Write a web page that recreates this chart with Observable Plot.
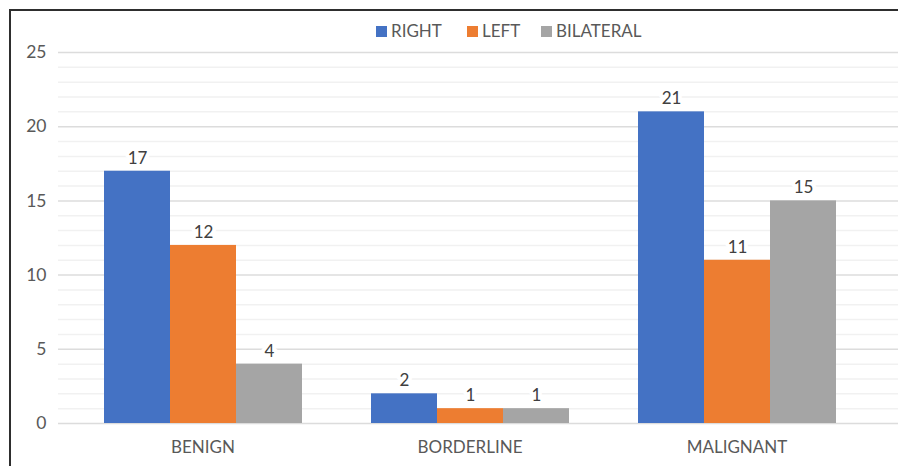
<!DOCTYPE html>
<html>
<head>
<meta charset="utf-8">
<script src="https://cdn.jsdelivr.net/npm/d3@7"></script>
<script src="https://cdn.jsdelivr.net/npm/@observablehq/plot@0.6"></script>
<style>
  html, body { margin: 0; padding: 0; background: #fff; overflow: hidden; }
  #wrap { position: relative; width: 898px; height: 466px; overflow: hidden; font-family: Lato, "Open Sans", sans-serif; }
  #frame { position: absolute; left: 9px; top: 9px; width: 1000px; height: 1000px; border: 2px solid #2e2e2e; box-sizing: border-box; pointer-events: none; }
  #legend { position: relative; height: 40px; }
  .item { position: absolute; top: 21px; display: flex; align-items: center; font-size: 17px; color: #595959; line-height: 20px; }
  .sw { width: 11px; height: 11px; margin-right: 4px; }
  #chart { position: relative; height: 426px; }
  #chart svg { display: block; position: absolute; left: 0; top: 0; }
</style>
</head>
<body>
<div id="wrap">
  <div id="legend"></div>
  <div id="chart"></div>
  <div id="frame"></div>
</div>
<script>
// Tumour type by side
const categories = ["BENIGN", "BORDERLINE", "MALIGNANT"];
const series = ["RIGHT", "LEFT", "BILATERAL"];
const rightCounts = [17, 2, 21];
const leftCounts = [12, 1, 11];
const bilateralCounts = [4, 1, 15];
const colors = ["#4472C4", "#ED7D31", "#A5A5A5"];
const majorTicks = [0, 5, 10, 15, 20, 25];
const minorTicks = [1, 2, 3, 4, 6, 7, 8, 9, 11, 12, 13, 14, 16, 17, 18, 19, 21, 22, 23, 24];
const legendLeft = [376, 467, 541];

const countsBySeries = [rightCounts, leftCounts, bilateralCounts];
const data = categories.flatMap((category, i) =>
  series.map((side, j) => ({category, side, count: countsBySeries[j][i]}))
);

// legend row
const legend = document.getElementById("legend");
series.forEach((s, j) => {
  const item = document.createElement("div");
  item.className = "item";
  item.style.left = legendLeft[j] + "px";
  const sw = document.createElement("span");
  sw.className = "sw";
  sw.style.background = colors[j];
  const label = document.createElement("span");
  label.textContent = s;
  item.append(sw, label);
  legend.append(item);
});

// shared frame of both layers
const frame = {
  width: 898,
  height: 426,
  marginLeft: 58,
  marginRight: 0,
  marginTop: 12,
  marginBottom: 43,
  style: {fontFamily: "Lato, 'Open Sans', sans-serif", fontSize: "16px", color: "#595959", background: "transparent"}
};
const yScale = {domain: [0, 25], axis: null};

// back layer: gridlines and value axis spanning the full plot width
const grid = Plot.plot({
  ...frame,
  y: yScale,
  marks: [
    Plot.ruleY(minorTicks, {stroke: "#f1f1f1", strokeWidth: 1.5}),
    Plot.ruleY(majorTicks, {stroke: "#dcdcdc", strokeWidth: 1.5}),
    Plot.axisY(majorTicks, {tickSize: 0, tickPadding: 12, label: null, fontSize: 17.5})
  ]
});

// front layer: grouped bars with value labels
const bars = Plot.plot({
  ...frame,
  fx: {domain: categories, paddingInner: 0, paddingOuter: 0.07, align: 0.27, label: null},
  x: {domain: series, paddingInner: 0, paddingOuter: 0.5, axis: null},
  y: yScale,
  color: {domain: series, range: colors},
  marks: [
    Plot.axisFx({anchor: "bottom", tickSize: 0, tickPadding: 17, label: null, fontSize: 17}),
    Plot.barY(data, {fx: "category", x: "side", y: "count", fill: "side"}),
    Plot.text(data, {
      fx: "category", x: "side", y: "count",
      text: d => String(d.count),
      dy: -13, fontSize: 17, fill: "#404040",
      stroke: "white", strokeWidth: 8
    })
  ]
});

document.getElementById("chart").append(grid, bars);
</script>
</body>
</html>
